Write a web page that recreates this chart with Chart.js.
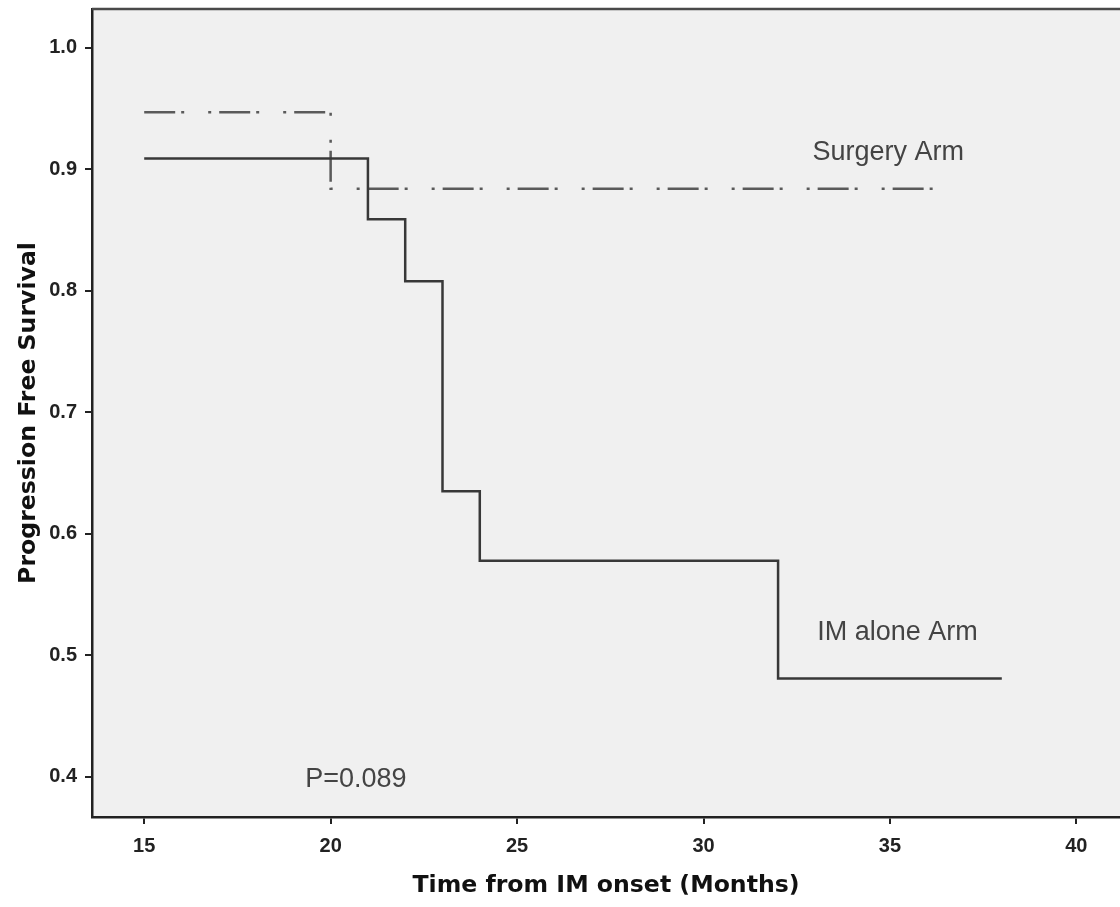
<!DOCTYPE html>
<html>
<head>
<meta charset="utf-8">
<script src="https://cdn.jsdelivr.net/npm/chart.js@4/dist/chart.umd.min.js"></script>
<style>
  body { margin: 0; background: #fff; }
  canvas { display: block; }
</style>
</head>
<body>
<canvas id="kmChart" width="1120" height="907"></canvas>
<script>
// IM alone arm (solid step line)
const imTimes = [15, 21, 22, 23, 24, 32, 38];
const imSurvival = [0.909, 0.859, 0.808, 0.635, 0.578, 0.481, 0.481];

// Surgery arm (dash-dot step line)
const surgeryTimes = [15, 20, 36.4];
const surgerySurvival = [0.947, 0.884, 0.884];

// axis ticks
const xTicks = [15, 20, 25, 30, 35, 40];
const yTicks = [0.4, 0.5, 0.6, 0.7, 0.8, 0.9, 1.0];

// text labels inside the plot
const noteTexts = ["Surgery Arm", "IM alone Arm", "P=0.089"];
const noteX = [32.92, 33.05, 19.32];
const noteY = [0.914, 0.519, 0.398];

function toPoints(xs, ys) {
  return xs.map((x, i) => ({ x: x, y: ys[i] }));
}

// grey plot background + top frame line
const plotFrame = {
  id: "plotFrame",
  beforeDraw(chart) {
    const { ctx, chartArea } = chart;
    ctx.save();
    ctx.fillStyle = "#f0f0f0";
    ctx.fillRect(chartArea.left, chartArea.top, chartArea.right - chartArea.left, chartArea.bottom - chartArea.top);
    ctx.restore();
  },
  afterDraw(chart) {
    const { ctx, chartArea } = chart;
    ctx.save();
    ctx.strokeStyle = "#4a4a4a";
    ctx.lineWidth = 2.5;
    ctx.beginPath();
    ctx.moveTo(chartArea.left, chartArea.top);
    ctx.lineTo(chartArea.right, chartArea.top);
    ctx.stroke();
    ctx.restore();
  }
};

const notes = {
  id: "notes",
  afterDatasetsDraw(chart) {
    const { ctx, scales } = chart;
    ctx.save();
    ctx.font = "27px 'Liberation Sans', Arial, sans-serif";
    ctx.fillStyle = "#444";
    ctx.textAlign = "left";
    ctx.textBaseline = "middle";
    noteTexts.forEach((t, i) => {
      ctx.fillText(t, scales.x.getPixelForValue(noteX[i]), scales.y.getPixelForValue(noteY[i]));
    });
    ctx.restore();
  }
};

const tickFont = { family: "'Liberation Sans', Arial, sans-serif", size: 20, weight: "bold" };
const titleFont = { family: "'DejaVu Sans', sans-serif", size: 23.6, weight: "bold" };

new Chart(document.getElementById("kmChart"), {
  type: "line",
  data: {
    datasets: [
      {
        label: "IM alone Arm",
        data: toPoints(imTimes, imSurvival),
        borderColor: "#383838",
        borderWidth: 2.5,
        stepped: "before",
        pointRadius: 0,
        fill: false
      },
      {
        label: "Surgery Arm",
        data: toPoints(surgeryTimes, surgerySurvival),
        borderColor: "#5a5a5a",
        borderWidth: 2.5,
        borderDash: [31, 6, 3, 24, 3, 8],
        stepped: "before",
        pointRadius: 0,
        fill: false
      }
    ]
  },
  options: {
    responsive: false,
    animation: false,
    layout: { padding: { top: 9, right: 0, left: 0, bottom: 0 } },
    plugins: {
      legend: { display: false },
      tooltip: { enabled: false }
    },
    scales: {
      x: {
        type: "linear",
        min: 13.6,
        max: 41.17,
        afterBuildTicks: (scale) => { scale.ticks = xTicks.map(v => ({ value: v })); },
        afterFit: (scale) => {
          scale.height = 90;
          scale.paddingLeft = 0;
          scale.paddingRight = 0;
        },
        border: { display: true, color: "#222", width: 2.5 },
        grid: { drawOnChartArea: false, drawTicks: true, tickLength: 7, color: "#222", lineWidth: 2 },
        ticks: {
          padding: 10,
          color: "#222",
          font: tickFont,
          callback: (v) => v
        },
        title: {
          display: true,
          text: "Time from IM onset (Months)",
          color: "#111",
          font: titleFont,
          padding: { top: 0, bottom: 7 }
        }
      },
      y: {
        min: 0.367,
        max: 1.032,
        afterBuildTicks: (scale) => { scale.ticks = yTicks.map(v => ({ value: v })); },
        afterFit: (scale) => {
          scale.width = 92;
          scale.paddingTop = 0;
          scale.paddingBottom = 0;
        },
        border: { display: true, color: "#222", width: 2.5 },
        grid: { drawOnChartArea: false, drawTicks: true, tickLength: 7, color: "#222", lineWidth: 2 },
        ticks: {
          padding: 8,
          color: "#222",
          font: tickFont,
          callback: (v) => Number(v).toFixed(1)
        },
        title: {
          display: true,
          text: "Progression Free Survival",
          color: "#111",
          font: titleFont,
          padding: { top: 15, bottom: 0 }
        }
      }
    }
  },
  plugins: [plotFrame, notes]
});
</script>
</body>
</html>
